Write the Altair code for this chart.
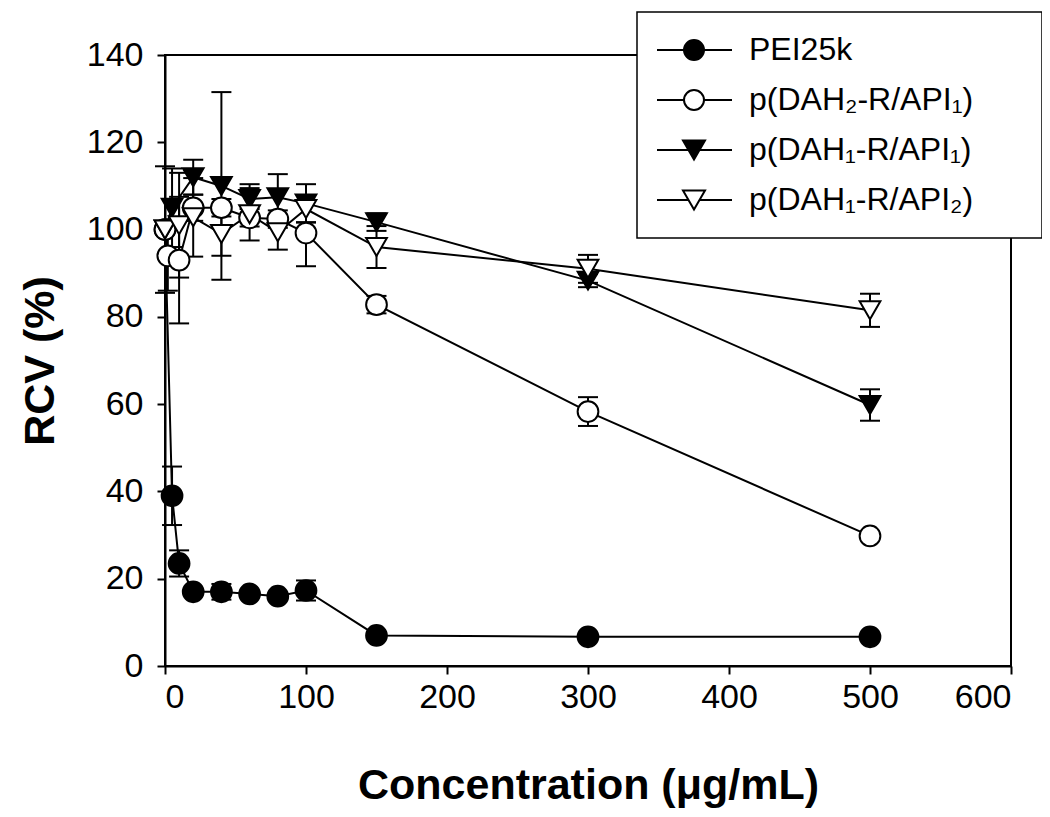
import altair as alt
import pandas as pd

series_names = ["PEI25k", "p(DAH₂-R/API₁)", "p(DAH₁-R/API₁)", "p(DAH₁-R/API₂)"]

pei_x = [0, 5, 10, 20, 40, 60, 80, 100, 150, 300, 500]
pei_y = [100, 39, 23.5, 17, 17, 16.5, 16, 17.3, 7, 6.7, 6.7]
pei_e = [0, 6.7, 3, 0, 1.8, 0, 0, 2.3, 0, 0, 0]

dah2_api1_x = [0, 2, 10, 20, 40, 60, 80, 100, 150, 300, 500]
dah2_api1_y = [100, 94, 93, 105, 105, 102.7, 102.4, 99.2, 82.8, 58.3, 29.8]
dah2_api1_e = [0, 8, 14.5, 3, 2, 2, 2, 7.6, 2, 3.3, 1]

dah1_api1_x = [0, 5, 20, 40, 60, 80, 100, 150, 300, 500]
dah1_api1_y = [100, 105, 112, 110, 107, 107.4, 106, 101.7, 88.3, 59.8]
dah1_api1_e = [14.5, 9, 4, 21.5, 3.4, 5.3, 4.4, 2, 1.5, 3.6]

dah1_api2_x = [0, 10, 20, 40, 60, 80, 100, 150, 300, 500]
dah1_api2_y = [100, 101, 102.8, 99, 103.5, 99.4, 104.7, 96, 91, 81.5]
dah1_api2_e = [0, 12, 9, 5, 6, 4, 3, 4.8, 3.2, 3.8]

marker_shapes = ["circle", "circle", "triangle-down", "triangle-down"]
marker_fills = ["black", "white", "black", "white"]

# legend symbols: a line with the marker in its middle
circle_path = "M-1.8,0H0.9M2.9,0H5.7M0.9,0A1,1 0 1,0 2.9,0A1,1 0 1,0 0.9,0Z"
tri_path = "M-1.8,0H1.35M2.45,0H5.7M1.9,0.95L0.8,-0.95L3.0,-0.95Z"
legend_shapes = [circle_path, circle_path, tri_path, tri_path]

rows = []
for name, xs, ys, es in [
    (series_names[0], pei_x, pei_y, pei_e),
    (series_names[1], dah2_api1_x, dah2_api1_y, dah2_api1_e),
    (series_names[2], dah1_api1_x, dah1_api1_y, dah1_api1_e),
    (series_names[3], dah1_api2_x, dah1_api2_y, dah1_api2_e),
]:
    for x, y, e in zip(xs, ys, es):
        rows.append(dict(series=name, conc=x, rcv=y, err=e, lo=y - e, hi=y + e))
df = pd.DataFrame(rows)
err_df = df[df["err"] > 0]

FONT = "Liberation Sans"

x_scale = alt.Scale(domain=[0, 600], nice=False, zero=False)
y_scale = alt.Scale(domain=[0, 140], nice=False, zero=False)
x_axis = alt.Axis(values=list(range(0, 601, 100)), title="Concentration (μg/mL)",
                  labelPadding=6, titlePadding=50)
y_axis = alt.Axis(values=list(range(0, 141, 20)), title="RCV (%)",
                  labelPadding=14, titlePadding=24)


def X():
    return alt.X("conc:Q", scale=x_scale, axis=x_axis)


def Y(field):
    return alt.Y(f"{field}:Q", scale=y_scale, axis=y_axis)


rules = alt.Chart(err_df).mark_rule(color="black", strokeWidth=2).encode(
    x=X(), y=Y("lo"), y2="hi:Q"
)
caps_lo = alt.Chart(err_df).mark_tick(orient="horizontal", color="black", size=20,
                                      thickness=2, opacity=1).encode(x=X(), y=Y("lo"))
caps_hi = alt.Chart(err_df).mark_tick(orient="horizontal", color="black", size=20,
                                      thickness=2, opacity=1).encode(x=X(), y=Y("hi"))

lines = alt.Chart(df).mark_line(color="black", strokeWidth=2).encode(
    x=X(), y=Y("rcv"), detail="series:N"
)

points = alt.Chart(df).mark_point(filled=True, stroke="black", strokeWidth=2,
                                  size=430, opacity=1).encode(
    x=X(), y=Y("rcv"),
    shape=alt.Shape("series:N", scale=alt.Scale(domain=series_names, range=marker_shapes),
                    legend=None),
    fill=alt.Fill("series:N", scale=alt.Scale(domain=series_names, range=marker_fills),
                  legend=None),
)

leg = alt.Legend(
    title=None, orient="none", legendX=472, legendY=-43, padding=22,
    strokeColor="black", fillColor="white", symbolSize=400,
    symbolStrokeWidth=2, symbolStrokeColor="black", symbolOpacity=1,
    labelFont=FONT, labelFontSize=32, labelColor="black", labelOffset=58,
    labelLimit=0, rowPadding=18, cornerRadius=0,
    labelExpr="datum.label + '\u2800\u2800'",
)

legend_layer = alt.Chart(df).transform_filter("false").mark_point(
    filled=True, strokeWidth=2, size=400, opacity=1
).encode(
    x=X(), y=Y("rcv"),
    shape=alt.Shape("series:N", scale=alt.Scale(domain=series_names, range=legend_shapes),
                    legend=leg),
    fill=alt.Fill("series:N", scale=alt.Scale(domain=series_names, range=marker_fills),
                  legend=leg),
    stroke=alt.Stroke("series:N", scale=alt.Scale(domain=series_names, range=["black"] * 4),
                      legend=leg),
)

chart = alt.layer(rules, caps_lo, caps_hi, lines, points, legend_layer).resolve_scale(
    shape="independent", fill="independent", stroke="independent"
).properties(
    width=846, height=611,
    autosize=alt.AutoSizeParams(type="none"),
    padding={"left": 157, "top": 47, "right": 31, "bottom": 143},
).configure_view(
    stroke="black", strokeWidth=2
).configure_axis(
    grid=False, domainColor="black", domainWidth=2, tickColor="black", tickWidth=2,
    tickSize=8, labelFont=FONT, labelFontSize=34, labelColor="black",
    titleFont=FONT, titleFontSize=43, titleFontWeight="bold", titleColor="black",
).configure_legend(
    strokeWidth=1.5
)

chart.save("out.html", embed_options={"renderer": "svg", "actions": False})
